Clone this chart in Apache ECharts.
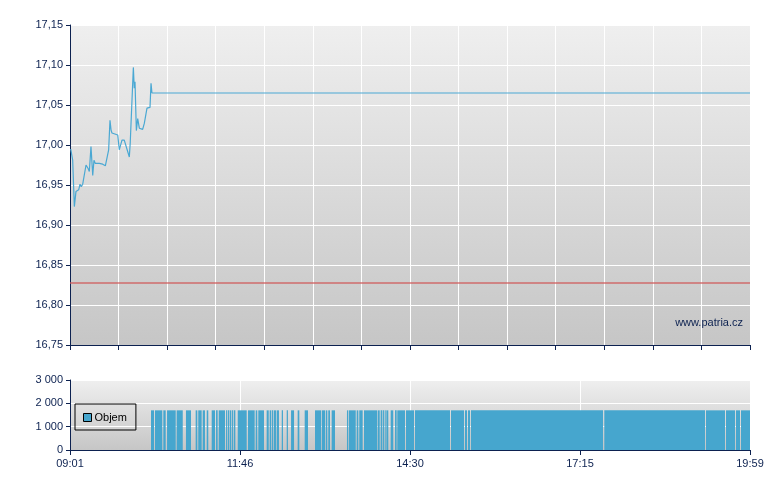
<!DOCTYPE html>
<html>
<head>
<meta charset="utf-8">
<script src="https://cdn.jsdelivr.net/npm/echarts@6/dist/echarts.min.js"></script>
<style>html,body{margin:0;padding:0;background:#fff}#c{width:780px;height:490px}</style>
</head>
<body>
<div id="c"></div>
<script>
// ---- data (minutes after 09:01) ----
var startHour = 9, startMinute = 1, sessionMinutes = 658;
var priceTimes = [0.7, 2.6, 4.2, 5.1, 5.8, 7.1, 8.4, 9.7, 10.9, 12.3, 14.2, 15.5, 17.4, 18.7, 20.3, 22.0, 23.2, 24.5, 28.4, 31.6, 34.2, 36.1, 37.4, 38.7, 39.7, 40.6, 46.2, 47.7, 50.3, 52.5, 57.4, 58.3, 60.0, 61.3, 62.2, 62.9, 64.2, 65.5, 67.1, 70.3, 71.9, 73.5, 74.5, 76.2, 77.4, 78.4, 79.3, 658];
var priceValues = [16.995, 16.981, 16.923, 16.923, 16.942, 16.940, 16.944, 16.951, 16.948, 16.951, 16.949, 16.975, 16.971, 16.967, 16.998, 16.962, 16.981, 16.977, 16.977, 16.976, 16.974, 16.975, 16.994, 17.031, 17.019, 17.015, 17.0125, 16.994, 17.006, 17.006, 16.985, 17.003, 17.003, 17.097, 17.071, 17.079, 17.018, 17.033, 17.021, 17.0195, 17.027, 17.028, 17.046, 17.045, 17.047, 17.077, 17.065, 17.065];
var previousClose = 16.8275;
var volumeStart = [78.4, 82.2, 90.3, 93.9, 103.2, 112.2, 121.6, 124.1, 128.4, 132.3, 137.1, 141.3, 143.9, 151.0, 152.9, 154.8, 156.8, 158.7, 162.3, 172.2, 179.7, 182.2, 190.3, 193.2, 195.2, 197.1, 200.0, 204.9, 209.7, 213.9, 220.3, 227.1, 237.1, 243.6, 247.7, 249.9, 253.2, 268.0, 270.0, 277.4, 279.9, 284.5, 298.0, 300.6, 302.5, 304.5, 306.1, 310.3, 314.5, 316.7, 325.1, 333.8, 368.7, 382.2, 385.1, 388.0, 517.0, 615.4, 634.8, 644.4, 649.3];
var volumeEnd   = [81.3, 89.3, 92.6, 102.3, 109.1, 117.1, 123.2, 127.4, 130.6, 133.8, 140.3, 142.9, 150.0, 152.2, 154.2, 156.1, 158.0, 160.0, 171.0, 178.7, 181.2, 187.7, 192.3, 194.5, 196.4, 199.3, 202.2, 206.1, 210.9, 216.8, 221.9, 230.3, 242.9, 247.0, 249.0, 251.6, 256.4, 269.3, 276.5, 279.0, 283.2, 297.4, 299.7, 301.9, 303.8, 305.5, 308.0, 312.8, 316.1, 324.2, 332.9, 367.7, 381.3, 384.2, 387.1, 515.8, 614.5, 633.8, 643.5, 648.3, 658];
var volumeValue = 1700;
var priceTicks = [16.75, 17.15, 0.05];
var volumeTicks = [0, 3000, 1000];

// ---- build ----
var axisColor = '#0c2150';
var font = '"Liberation Sans", Arial, sans-serif';
var pricePoints = priceTimes.map(function (t, i) { return [t, priceValues[i]]; });
var closePoints = [[0, previousClose], [sessionMinutes, previousClose]];
var volumeData = volumeStart.map(function (s, i) { return [s, volumeEnd[i], volumeValue]; });

function fmtTime(m) {
  var tot = startHour * 60 + startMinute + Math.round(m);
  var h = Math.floor(tot / 60), mm = tot % 60;
  return (h < 10 ? '0' : '') + h + ':' + (mm < 10 ? '0' : '') + mm;
}
function bg() {
  return new echarts.graphic.LinearGradient(0, 0, 0, 1, [
    { offset: 0, color: '#efefef' }, { offset: 1, color: '#c6c6c6' }
  ]);
}

var chart = echarts.init(document.getElementById('c'), null, { renderer: 'canvas' });
chart.setOption({
  animation: false,
  backgroundColor: '#ffffff',
  textStyle: { fontFamily: font },
  grid: [
    { left: 70, top: 25, width: 680, height: 320, show: true, backgroundColor: bg(), borderWidth: 0 },
    { left: 70, top: 380, width: 680, height: 70, show: true, backgroundColor: bg(), borderWidth: 0 }
  ],
  xAxis: [
    { type: 'value', gridIndex: 0, min: 0, max: sessionMinutes, interval: 47,
      axisLine: { show: true, lineStyle: { color: axisColor, width: 1 } },
      axisTick: { show: true, length: 5, lineStyle: { color: axisColor } },
      axisLabel: { show: false },
      splitLine: { show: true, lineStyle: { color: '#ffffff', width: 1 } } },
    { type: 'value', gridIndex: 1, min: 0, max: sessionMinutes, interval: sessionMinutes / 4,
      axisLine: { show: true, lineStyle: { color: axisColor, width: 1 } },
      axisTick: { show: true, length: 5, lineStyle: { color: axisColor } },
      axisLabel: { show: true, color: axisColor, fontSize: 11, fontFamily: font, margin: 8,
        formatter: function (v) { return fmtTime(v); } },
      splitLine: { show: true, lineStyle: { color: '#ffffff', width: 1 } } }
  ],
  yAxis: [
    { type: 'value', gridIndex: 0, min: priceTicks[0], max: priceTicks[1], interval: priceTicks[2],
      axisLine: { show: true, lineStyle: { color: axisColor, width: 1 } },
      axisTick: { show: true, length: 4, lineStyle: { color: axisColor } },
      axisLabel: { color: axisColor, fontSize: 11, fontFamily: font, margin: 7,
        formatter: function (v) { return v.toFixed(2).replace('.', ','); } },
      splitLine: { show: true, lineStyle: { color: '#ffffff', width: 1 } } },
    { type: 'value', gridIndex: 1, min: volumeTicks[0], max: volumeTicks[1], interval: volumeTicks[2],
      axisLine: { show: true, lineStyle: { color: axisColor, width: 1 } },
      axisTick: { show: true, length: 4, lineStyle: { color: axisColor } },
      axisLabel: { color: axisColor, fontSize: 11, fontFamily: font, margin: 7,
        formatter: function (v) { return String(v).replace(/\B(?=(\d{3})+(?!\d))/g, ' '); } },
      splitLine: { show: true, lineStyle: { color: '#ffffff', width: 1 } } }
  ],
  legend: {
    data: [{ name: 'Objem', icon: 'rect' }],
    left: 75, top: 404,
    padding: [8, 9, 7, 8],
    borderColor: '#000', borderWidth: 1,
    itemWidth: 8, itemHeight: 8,
    itemStyle: { borderColor: '#000', borderWidth: 1 },
    textStyle: { color: '#000', fontSize: 11, fontFamily: font, padding: [0, 0, 0, -2] }
  },
  graphic: [
    { type: 'text', x: 743, y: 323, z: 10,
      style: { text: 'www.patria.cz', align: 'right', verticalAlign: 'middle',
        font: '11px ' + font, fill: axisColor } }
  ],
  series: [
    { name: 'close', type: 'line', xAxisIndex: 0, yAxisIndex: 0, data: closePoints,
      showSymbol: false, silent: true,
      lineStyle: { color: '#d05a5a', width: 1.5, opacity: 0.85 } },
    { name: 'Cena', type: 'line', xAxisIndex: 0, yAxisIndex: 0, data: pricePoints,
      showSymbol: false, silent: true,
      lineStyle: { color: '#4aa8d3', width: 1.2 } },
    { name: 'Objem', type: 'custom', xAxisIndex: 1, yAxisIndex: 1, data: volumeData,
      encode: { x: [0, 1], y: 2 },
      itemStyle: { color: '#46a6ce' },
      renderItem: function (params, api) {
        var p0 = api.coord([api.value(0), api.value(2)]);
        var p1 = api.coord([api.value(1), 0]);
        return { type: 'rect',
          shape: { x: p0[0], y: p0[1], width: p1[0] - p0[0], height: p1[1] - p0[1] },
          style: { fill: '#46a6ce' } };
      } }
  ]
});
</script>
</body>
</html>
